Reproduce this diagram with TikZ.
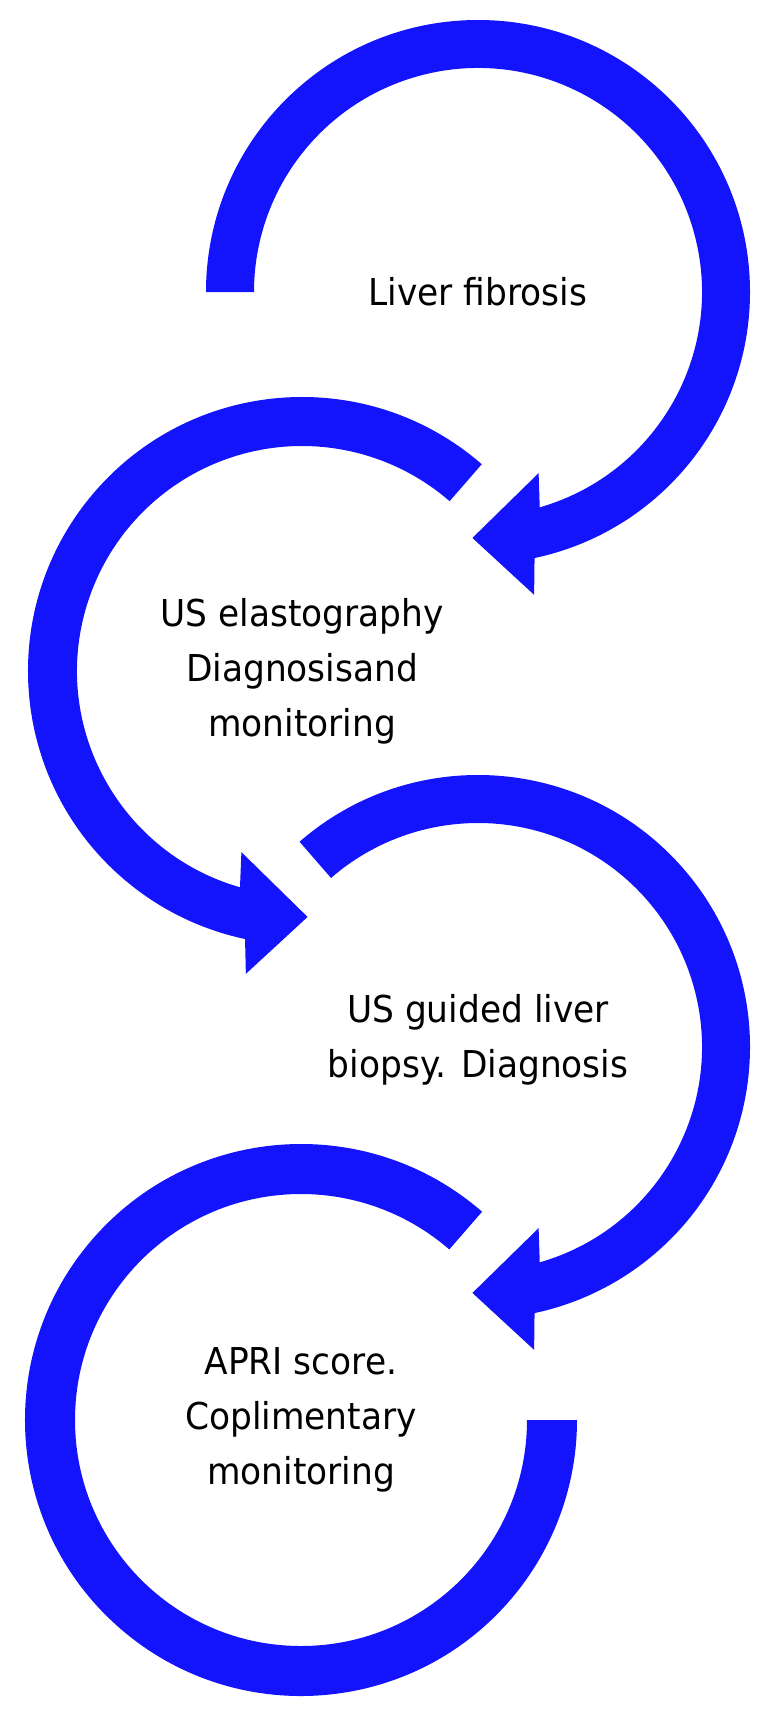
\documentclass[tikz,border=0pt]{standalone}
\usepackage{fontspec}
\setmainfont{DejaVu Sans}[FakeStretch=0.93]
\usetikzlibrary{calc}
\definecolor{ringblue}{RGB}{20,20,252}
\tikzset{
  ring/.style={fill=ringblue, draw=none},
  lbl/.style={align=center, text=black, inner sep=0pt,
    font=\fontsize{18.5}{27.5}\selectfont}
}
\begin{document}
\begin{tikzpicture}[x=0.5pt, y=0.5pt]
\useasboundingbox (0,0) rectangle (780,-1718);
% ring centres (pixel coordinates, y negated)
\coordinate (c1) at (478,-292);
\coordinate (c2) at (302,-671);
\coordinate (c3) at (478,-1047);
\coordinate (c4) at (301,-1420);

% ring 1: clockwise, arrow at bottom
\fill[ring] ($(c1)+(180:272)$) arc[start angle=180, end angle=-78, radius=272]
  -- ($(c1)+(-79.5:308)$) -- ($(c1)+(-91.3:246)$) -- ($(c1)+(-71.5:191)$)
  -- ($(c1)+(-74:224)$) arc[start angle=-74, end angle=180, radius=224] -- cycle;

% ring 2: counter-clockwise, arrow at bottom
\fill[ring] ($(c2)+(49:274)$) arc[start angle=49, end angle=258, radius=274]
  -- ($(c2)+(259.5:308)$) -- ($(c2)+(271.3:246)$) -- ($(c2)+(251.5:191)$)
  -- ($(c2)+(254:225)$) arc[start angle=254, end angle=49, radius=225] -- cycle;

% ring 3: clockwise, arrow at bottom
\fill[ring] ($(c3)+(131:272)$) arc[start angle=131, end angle=-78, radius=272]
  -- ($(c3)+(-79.5:308)$) -- ($(c3)+(-91.3:246)$) -- ($(c3)+(-71.5:191)$)
  -- ($(c3)+(-74:224)$) arc[start angle=-74, end angle=131, radius=224] -- cycle;

% ring 4: open ring, no arrow
\fill[ring] ($(c4)+(49:276)$) arc[start angle=49, end angle=360, radius=276]
  -- ($(c4)+(0:226)$) arc[start angle=360, end angle=49, radius=226] -- cycle;

\node[lbl] (t1) at (c1) {Liver fibrosis};
\node[lbl] (t2) at (c2) {US elastography\\Diagnosisand\\monitoring};
\node[lbl] (t3) at ($(c3)+(0,7)$) {US guided liver\\biopsy. Diagnosis};
\node[lbl] (t4) at (c4) {APRI score.\\Coplimentary\\monitoring};
\end{tikzpicture}
\end{document}
